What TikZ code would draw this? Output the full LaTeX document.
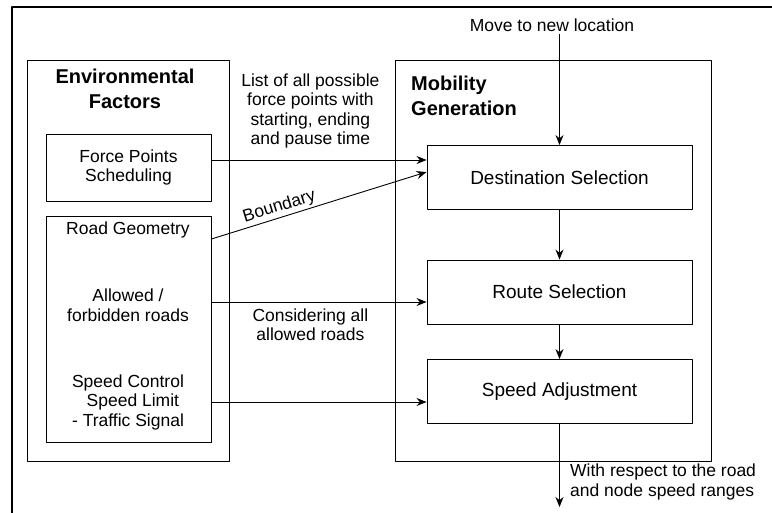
\documentclass[tikz,border=0pt]{standalone}
\usepackage{fontspec}
\setmainfont{Liberation Sans}
\usetikzlibrary{arrows.meta}

\begin{document}
\begin{tikzpicture}[x=1pt, y=-1pt, line join=round, >={Stealth[length=10pt,width=8pt]},
		font=\fontsize{17.5}{19.5}\selectfont,
		frame/.style={draw, line width=0.9pt, inner sep=0pt},
		stepbox/.style={frame, minimum width=265pt, minimum height=64pt, font=\fontsize{19}{21}\selectfont},
		title/.style={font=\fontsize{20}{25}\selectfont\bfseries, inner sep=0pt},
		lbl/.style={align=center, inner sep=2pt},
		arr/.style={->, line width=0.9pt}]
		\useasboundingbox (0,0) rectangle (772,512);
		\draw[line width=1.4pt] (12,7) rectangle (800,540); % outer frame
		
		% Environmental factors
		\node[frame, minimum width=202pt, minimum height=401pt] (envbox) at (128,260.5) {};
		\node[title, align=center] (envtitle) at (125,89) {Environmental\\Factors};
		\node[frame, minimum width=165pt, minimum height=67pt, align=center] (forcebox) at (128.5,167.5) {Force Points\\Scheduling};
		\node[frame, minimum width=165pt, minimum height=226pt] (roadbox) at (128.5,329) {};
		\node[lbl] (roadgeo) at (128,230) {Road Geometry};
		\node[lbl] (allowed) at (128,305) {Allowed /\\forbidden roads};
		\node[lbl] (speedctl) at (128,402) {Speed Control\\\ \ Speed Limit\\- Traffic Signal};
		
		% Mobility generation
		\node[frame, minimum width=316pt, minimum height=401pt] (mobbox) at (553,260.5) {};
		\node[title, align=left, anchor=north west] (mobtitle) at (411,76) {Mobility\\Generation};
		\node[stepbox] (dest) at (559.5,177.5) {Destination Selection};
		\node[stepbox] (route) at (559.5,292) {Route Selection};
		\node[stepbox] (speed) at (559.5,391.5) {Speed Adjustment};
		\node[lbl] (movetxt) at (552,25) {Move to new location};
		\coordinate (out) at (559.5,507);
		\node[lbl, align=left, anchor=north west] (outtxt) at (568,462) {With respect to the road\\and node speed ranges};
		
		% connectors
		\draw[arr] (movetxt.south -| dest.north) -- (dest.north);
		\draw[arr] (dest) -- (route);
		\draw[arr] (route) -- (speed);
		\draw[arr] (speed) -- (out);
		\draw[arr] ([yshift=7.5pt]forcebox.east) -- ([yshift=17.5pt]dest.west)
			node[lbl, pos=.46, above=9pt] {List of all possible\\force points with\\starting, ending\\and pause time};
		\draw[arr] ([yshift=90pt]roadbox.east) -- ([yshift=5.5pt]dest.west)
			node[lbl, pos=.33, above, sloped] {Boundary};
		\draw[arr] ([yshift=27pt]roadbox.east) -- ([yshift=-10pt]route.west)
			node[lbl, pos=.46, below=4pt] {Considering all\\allowed roads};
		\draw[arr] ([yshift=-73pt]roadbox.east) -- ([yshift=-10.5pt]speed.west);
		
\end{tikzpicture}
\end{document}
